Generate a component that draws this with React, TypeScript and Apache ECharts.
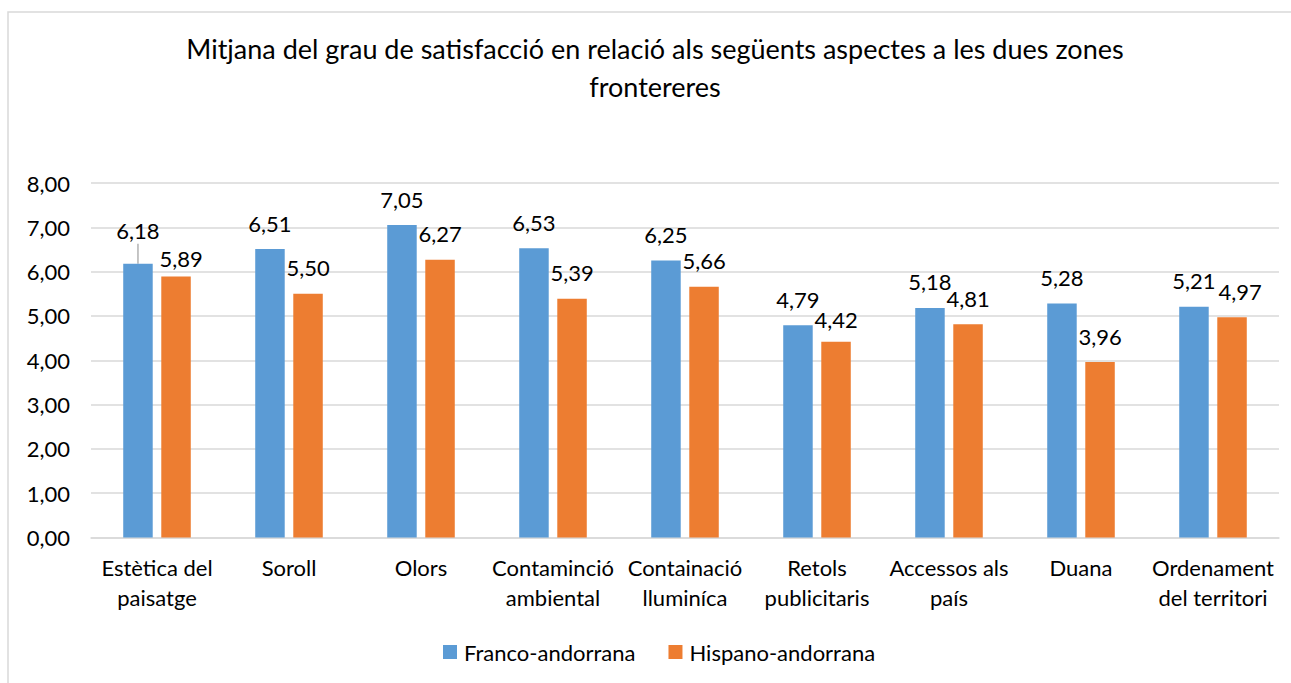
import React, { useEffect, useRef } from "react";
import * as echarts from "echarts";

const TITLE = "Mitjana del grau de satisfacció en relació als següents aspectes a les dues zones\nfrontereres";
const categories = [
  "Estètica del\npaisatge",
  "Soroll",
  "Olors",
  "Contaminció\nambiental",
  "Containació\nlluminíca",
  "Retols\npublicitaris",
  "Accessos als\npaís",
  "Duana",
  "Ordenament\ndel territori",
];
const francoName = "Franco-andorrana";
const hispanoName = "Hispano-andorrana";
const francoValues = [6.18, 6.51, 7.05, 6.53, 6.25, 4.79, 5.18, 5.28, 5.21];
const hispanoValues = [5.89, 5.5, 6.27, 5.39, 5.66, 4.42, 4.81, 3.96, 4.97];
const yTicks = { min: 0, max: 8, interval: 1 };

const FONT = "Lato, 'Liberation Sans', sans-serif";
const fmt = (v: number) => v.toFixed(2).replace(".", ",");

// label nudges (pixels) for individual labels, as placed in the original
const francoLabelOffsets: Record<number, [number, number]> = { 8: [-10, 0] };
const hispanoLabelOffsets: Record<number, [number, number]> = { 0: [5, 8], 5: [0, 4], 8: [8, 0] };

export default function App() {
  const ref = useRef<HTMLDivElement>(null);
  useEffect(() => {
    if (!ref.current) return;
    const chart = echarts.init(ref.current, undefined, { renderer: "svg" });
    const labelBase = {
      show: true,
      position: "top",
      distance: 13,
      fontSize: 22,
      lineHeight: 26,
      color: "#000",
      fontFamily: FONT,
      formatter: (p: any) => fmt(p.value),
    };
    const francoData = francoValues.map((v, i) => {
      const item: any = { value: v };
      if (francoLabelOffsets[i]) item.label = { offset: francoLabelOffsets[i] };
      if (i === 0) item.labelLine = { show: true, lineStyle: { color: "#a6a6a6", width: 1.3 } };
      return item;
    });
    const hispanoData = hispanoValues.map((v, i) => {
      const item: any = { value: v };
      if (hispanoLabelOffsets[i]) item.label = { offset: hispanoLabelOffsets[i] };
      return item;
    });
    chart.setOption({
      animation: false,
      backgroundColor: "#fff",
      textStyle: { fontFamily: FONT },
      graphic: [
        {
          type: "rect",
          shape: { x: 8, y: 12, width: 1320, height: 700 },
          style: { fill: "none", stroke: "#d9d9d9", lineWidth: 1.5 },
          silent: true,
        },
      ],
      title: {
        text: TITLE,
        left: 650,
        textAlign: "center",
        top: 24,
        textStyle: { fontSize: 27, lineHeight: 38, fontWeight: "normal", color: "#000", fontFamily: FONT },
      },
      legend: {
        data: [francoName, hispanoName],
        left: 438,
        top: 636,
        icon: "rect",
        itemWidth: 14,
        itemHeight: 14,
        itemGap: 33,
        textStyle: { fontSize: 22, color: "#000", fontFamily: FONT, padding: [0, 0, 0, 2] },
      },
      grid: { left: 91, right: 12, top: 183, bottom: 145.5, containLabel: false },
      xAxis: {
        type: "category",
        data: categories,
        axisLine: { show: true, lineStyle: { color: "#d9d9d9", width: 1.5 } },
        axisTick: { show: false },
        axisLabel: {
          interval: 0,
          fontSize: 22,
          lineHeight: 30,
          margin: 15,
          color: "#000",
          fontFamily: FONT,
        },
      },
      yAxis: {
        type: "value",
        min: yTicks.min,
        max: yTicks.max,
        interval: yTicks.interval,
        axisLine: { show: false },
        axisTick: { show: false },
        splitLine: { lineStyle: { color: "#d9d9d9", width: 1.5 } },
        axisLabel: {
          fontSize: 22,
          margin: 21,
          color: "#000",
          fontFamily: FONT,
          formatter: (v: number) => fmt(v),
        },
      },
      series: [
        {
          name: francoName,
          type: "bar",
          data: francoData,
          barWidth: 29.5,
          barGap: "29%",
          itemStyle: { color: "#5b9bd5" },
          label: labelBase,
          labelLine: { show: false },
          labelLayout: (p: any) => (p.dataIndex === 0 ? { dy: -7 } : {}),
        },
        {
          name: hispanoName,
          type: "bar",
          data: hispanoData,
          barWidth: 29.5,
          barGap: "29%",
          itemStyle: { color: "#ed7d31" },
          label: labelBase,
        },
      ],
    });
    return () => chart.dispose();
  }, []);
  return (
    <div
      ref={ref}
      style={{ position: "fixed", left: 0, top: 0, width: 1291, height: 683, background: "#fff" }}
    />
  );
}
